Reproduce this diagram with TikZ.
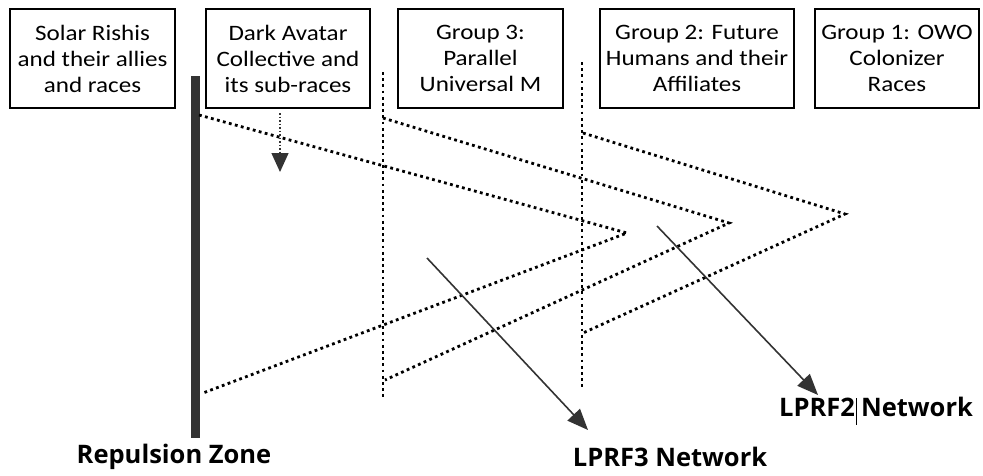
\documentclass[tikz,border=0pt]{standalone}
\usepackage{fontspec}
\setmainfont{Carlito}
\newfontfamily\boxfont[FakeStretch=1.14]{Carlito}
\newfontfamily\labelfont{Open Sans}
\usetikzlibrary{arrows.meta}
\definecolor{ink}{HTML}{333333}

\begin{document}
\begin{tikzpicture}[x=1pt,y=-1pt,
	groupbox/.style={draw,line width=1.3pt,minimum width=#1,minimum height=99pt,
		inner sep=0pt,align=center,font=\boxfont\fontsize{22}{26}\selectfont},
	dotline/.style={line width=2.8pt,dash pattern=on 2.8pt off 3.4pt},
	netlabel/.style={font=\labelfont\bfseries\fontsize{25.5}{28}\selectfont},
	bigarrow/.style={draw=ink,line width=1.6pt,-{Triangle[length=21pt,width=17pt]}}]

\useasboundingbox (0,0) rectangle (983,475);

% the five groups
\foreach \name/\x/\w/\txt in {b1/92.5/165/{Solar Rishis\\and their allies\\and races},
		b2/288/164/{Dark Avatar\\Collective and\\its sub-races},
		b3/480.5/165/{Group 3:\\Parallel\\Universal M},
		b4/697/194/{Group 2: Future\\Humans and their\\Affiliates},
		b5/897/164/{Group 1: OWO\\Colonizer\\Races}}
{
	\node[groupbox=\w pt] (\name) at (\x,58.5) {\txt};
};

% walls
\coordinate (rzt) at (195,76);
\coordinate (rzb) at (195,438);
\coordinate (v1t) at (383,72);
\coordinate (v1b) at (383,398);
\coordinate (v2t) at (582,62);
\coordinate (v2b) at (582,388);

\draw[ink,line width=9pt] (rzt) -- (rzb);
\draw[dotline,line width=2.5pt] (v1t) -- (v1b);
\draw[dotline,line width=2.5pt] (v2t) -- (v2b);

% zigzags
\coordinate (a0) at (199,115);
\coordinate (a1) at (627,233);
\coordinate (a2) at (203,393);
\coordinate (c0) at (383,118);
\coordinate (c1) at (729,223);
\coordinate (c2) at (385,380);
\coordinate (d0) at (583,133);
\coordinate (d1) at (845,214);
\coordinate (d2) at (583,333);

\foreach \s/\t/\e in {a0/a1/a2, c0/c1/c2, d0/d1/d2}
{
	\draw[dotline,line join=miter] (\s) -- (\t) -- (\e);
};

% labels
\node[netlabel] (rz) at (174,457) {Repulsion Zone};
\node[netlabel] (n3) at (670,457) {LPRF3 Network};
\node[netlabel] (n2) at (876,411) {LPRF2\kern1.5pt\vrule width 0.6pt height 19pt depth 8pt\kern4pt Network};

% arrows
\coordinate (s1) at (280,113);
\coordinate (e1) at (280,172);
\coordinate (s3) at (427,258);
\coordinate (e3) at (588,430);
\coordinate (s2) at (657,226);
\coordinate (e2) at (818,395);

\draw[ink,line width=1.4pt,dash pattern=on 1.5pt off 2pt,
	-{Triangle[length=19pt,width=17pt]}] (s1) -- (e1);
\path[bigarrow] (s3) -- (e3);
\path[bigarrow] (s2) -- (e2);
\end{tikzpicture}
\end{document}
